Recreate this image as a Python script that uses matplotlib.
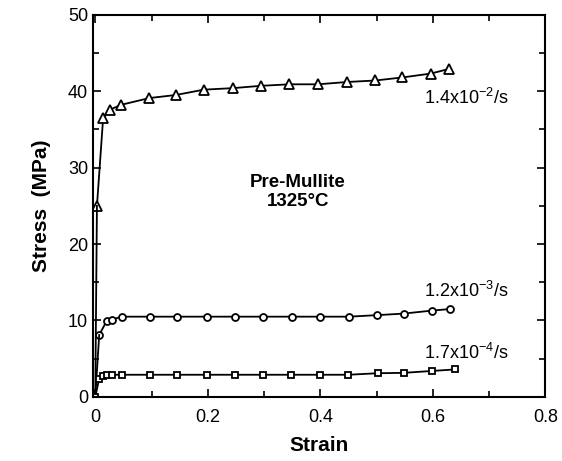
import matplotlib
matplotlib.use("Agg")
import matplotlib.pyplot as plt
from matplotlib.ticker import MultipleLocator

plt.rcParams['font.family'] = ['Liberation Sans', 'DejaVu Sans']

# 1.4x10^-2 /s  (triangles)
strain_a = [0.0, 0.003, 0.014, 0.027, 0.045, 0.096, 0.143, 0.193, 0.245, 0.294, 0.345,
            0.396, 0.447, 0.498, 0.546, 0.596, 0.628]
stress_a = [0.0, 25.0, 36.5, 37.6, 38.2, 39.1, 39.5, 40.2, 40.4, 40.7, 40.9,
            40.9, 41.2, 41.4, 41.8, 42.3, 42.9]

# 1.2x10^-3 /s  (circles)
strain_b = [0.0, 0.007, 0.020, 0.029, 0.047, 0.097, 0.146, 0.198, 0.248, 0.298, 0.349,
            0.400, 0.451, 0.501, 0.548, 0.599, 0.631]
stress_b = [0.0, 8.1, 9.9, 10.1, 10.5, 10.5, 10.5, 10.5, 10.5, 10.5, 10.5,
            10.5, 10.5, 10.7, 10.9, 11.3, 11.5]

# 1.7x10^-4 /s  (squares)
strain_c = [0.0, 0.007, 0.013, 0.020, 0.029, 0.048, 0.097, 0.146, 0.198, 0.248, 0.298,
            0.347, 0.400, 0.450, 0.502, 0.548, 0.599, 0.640]
stress_c = [0.0, 2.4, 2.75, 2.9, 2.9, 2.9, 2.9, 2.9, 2.9, 2.9, 2.9,
            2.9, 2.9, 2.9, 3.1, 3.15, 3.4, 3.6]

fig = plt.figure(figsize=(5.62, 4.61), dpi=100)
ax = fig.add_axes([0.1655, 0.139, 0.805, 0.829])

kw = dict(color="black", lw=1.3, mfc="white", mec="black", mew=1.3)
ax.plot(strain_a[1:], stress_a[1:], marker="^", ms=6.5, **kw)
ax.plot(strain_a[:2], stress_a[:2], color="black", lw=1.3)
ax.plot(strain_b[1:], stress_b[1:], marker="o", ms=5, **kw)
ax.plot(strain_b[:2], stress_b[:2], color="black", lw=1.3)
ax.plot(strain_c, stress_c, marker="s", ms=5, **kw)

ax.set_xlim(-0.004, 0.8)
ax.set_ylim(0, 50)
ax.xaxis.set_minor_locator(MultipleLocator(0.1))
ax.yaxis.set_major_locator(MultipleLocator(10))
ax.yaxis.set_minor_locator(MultipleLocator(5))
ax.set_xticks([0, 0.2, 0.4, 0.6, 0.8])
ax.set_xticklabels(["0", "0.2", "0.4", "0.6", "0.8"])
ax.tick_params(which="both", direction="in", top=True, right=True, labelsize=13, width=1.2)
ax.tick_params(which="major", length=6)
ax.tick_params(which="minor", length=4)
ax.tick_params(axis="x", pad=9)
for s in ax.spines.values():
    s.set_linewidth(1.5)

ax.set_xlabel("Strain", fontsize=15, fontweight="bold", labelpad=7)
ax.set_ylabel("Stress  (MPa)", fontsize=15, fontweight="bold", labelpad=12)

ax.text(0.585, 39.1, r"1.4x10$^{\mathregular{-2}}$/s", fontsize=13, va="center", ha="left")
ax.text(0.585, 13.8, r"1.2x10$^{\mathregular{-3}}$/s", fontsize=13, va="center", ha="left")
ax.text(0.585, 5.8, r"1.7x10$^{\mathregular{-4}}$/s", fontsize=13, va="center", ha="left")
ax.text(0.36, 26.8, "Pre-Mullite\n1325°C", fontsize=13.5, fontweight="bold",
        ha="center", va="center", linespacing=1.15)

fig.savefig("out.png", dpi=100)
